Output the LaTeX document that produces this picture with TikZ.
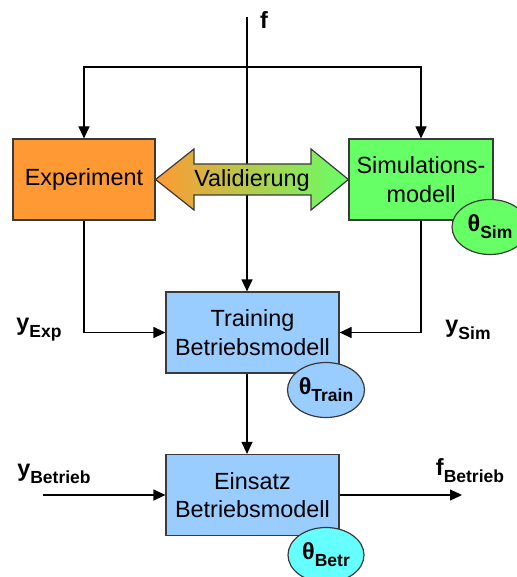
\documentclass[tikz,border=0pt]{standalone}
\usepackage{fontspec}
\setmainfont{Liberation Sans}
\usetikzlibrary{arrows.meta,shapes.geometric}
\definecolor{expcol}{HTML}{FF9933}
\definecolor{simcol}{HTML}{66FF66}
\definecolor{midcol}{HTML}{CCCC44}
\definecolor{betrcol}{HTML}{99CCFF}
\definecolor{thcol}{HTML}{66FFFF}
\definecolor{boxline}{HTML}{3A3A3A}
\newcommand\lbl[2]{\textbf{#1\raisebox{-7pt}{\fontsize{17.5}{18}\selectfont #2}}}

\begin{document}
\begin{tikzpicture}[x=1pt,y=-1pt,
	box/.style={draw=boxline, line width=1.2pt, minimum width=173pt, minimum height=81pt, inner sep=0pt, align=center, font=\fontsize{23.4}{28.5}\selectfont},
	param/.style={ellipse, draw=boxline, line width=1.2pt, minimum width=76pt, minimum height=55pt, inner sep=0pt, font=\bfseries\fontsize{23.4}{28}\selectfont},
	arr/.style={line width=1.2pt, -{Triangle[length=12pt,width=11pt]}},
	sig/.style={inner sep=0pt, font=\bfseries\fontsize{23.4}{28}\selectfont}]
	\useasboundingbox (0,0) rectangle (516,577);
	\node[box, fill=expcol, minimum width=142pt] (exp) at (84,179.5) {Experiment};
	\node[box, fill=simcol, minimum width=144pt] (sim) at (421,179.5) {Simulations-\\modell};
	\node[box, fill=betrcol] (train) at (252.5,332.5) {Training\\Betriebsmodell};
	\node[box, fill=betrcol] (einsatz) at (252.5,495) {Einsatz\\Betriebsmodell};
	\coordinate (ftop) at (247,17);
	\coordinate (fsplit) at (247,67);
	\coordinate (yin) at (43,495);
	\coordinate (fout) at (462,495);
	\draw[arr] (ftop) -- (ftop |- train.north);
	\draw[arr] (fsplit) -| (exp.north);
	\draw[arr] (fsplit) -| (sim.north);
	\draw[arr] (exp.south) |- (train.west);
	\draw[arr] (sim.south) |- (train.east);
	\draw[arr] (ftop |- train.south) -- (ftop |- einsatz.north);
	\draw[arr] (yin) -- (einsatz.west);
	\draw[arr] (einsatz.east) -- (fout);
	\shadedraw[left color=expcol, middle color=midcol, right color=simcol, draw=boxline, line width=1.2pt] (exp.east) -- (194,149) -- (194,164) -- (311,164) -- (311,149) -- (sim.west) -- (311,210) -- (311,195) -- (194,195) -- (194,210) -- cycle;
	\node[inner sep=0pt, font=\fontsize{23.4}{28.5}\selectfont] (valid) at (252,180) {Validierung};
	\node[param, fill=simcol] (thsim) at (490,227) {\lbl{θ}{Sim}};
	\node[param, fill=betrcol] (thtrain) at (326,390) {\lbl{θ}{Train}};
	\node[param, fill=thcol] (thbetr) at (326,555) {\lbl{θ}{Betr}};
	\node[sig] (f) at (264,20) {f};
	\node[sig] (yexp) at (39,330) {\lbl{y}{Exp}};
	\node[sig] (ysim) at (468,330) {\lbl{y}{Sim}};
	\node[sig] (ybetr) at (54,474) {\lbl{y}{Betrieb}};
	\node[sig] (fbetr) at (470,471) {\lbl{f}{Betrieb}};
\end{tikzpicture}
\end{document}
